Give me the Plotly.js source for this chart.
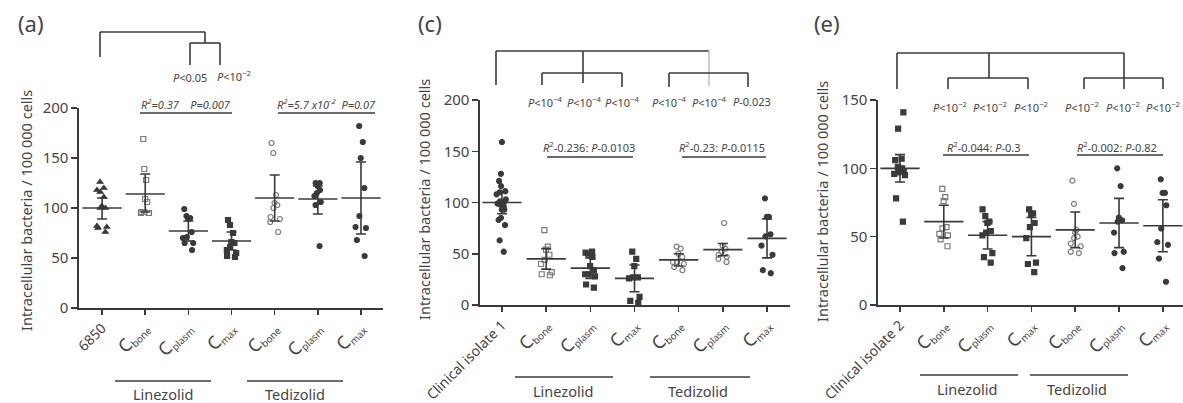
<!DOCTYPE html>
<html><head><meta charset="utf-8">
<script src="https://cdn.plot.ly/plotly-3.0.1.min.js"></script>
<style>html,body{margin:0;padding:0;background:#fff;}#chart{width:1183px;height:403px;}</style>
</head><body><div id="chart"></div>
<script>
// ---------- DATA ----------
const catLabelsA = ['6850','<span style="font-size:18px">C</span><sub>bone</sub>','<span style="font-size:18px">C</span><sub>plasm</sub>','<span style="font-size:18px">C</span><sub>max</sub>','<span style="font-size:18px">C</span><sub>bone</sub>','<span style="font-size:18px">C</span><sub>plasm</sub>','<span style="font-size:18px">C</span><sub>max</sub>'];
const catLabelsC = ['Clinical isolate 1'].concat(catLabelsA.slice(1));
const catLabelsE = ['Clinical isolate 2'].concat(catLabelsA.slice(1));
const groupLabels = ['Linezolid','Tedizolid'];

// Panel (a)
const a_6850      = [126,120,118,116,111,102,100,100,81,80,76,82];
const a_lzd_bone  = [169,139,128,109,106,96,96,95,95,95];
const a_lzd_plasm = [99,92,90,89,76,71,70,65,65,58];
const a_lzd_max   = [88,83,75,66,65,61,58,55,52,51];
const a_tzd_bone  = [165,155,113,105,103,100,91,89,86,76];
const a_tzd_plasm = [125,125,122,118,115,112,106,103,62];
const a_tzd_max   = [182,166,150,120,92,81,80,68,52];
const a_mean      = [100,114,77,67,110,109,110];
const a_errUp     = [10,20,10,9,23,13,36];
const a_errDown   = [11,18,10,9,23,15,36];

// Panel (c)
const c_iso       = [159,128,121,116,111,110,108,103,101,100,99,98,96,93,93,85,83,78,63,52];
const c_lzd_bone  = [73,57,54,49,44,40,32,30,29];
const c_lzd_plasm = [52,51,50,47,38,34,30,30,28,20,17];
const c_lzd_max   = [52,45,38,27,27,26,8,4,2];
const c_tzd_bone  = [57,55,50,47,42,42,40,37,34];
const c_tzd_plasm = [80,58,55,52,49,47,45,42];
const c_tzd_max   = [104,86,86,69,67,58,49,34,31];
const c_mean      = [100,45,36,26,44,54,65];
const c_err       = [11,10,10,13,6,6,19];

// Panel (e)
const e_iso       = [141,129,107,106,101,100,98,98,97,96,95,78,61];
const e_lzd_bone  = [85,79,76,57,56,52,51,48,43];
const e_lzd_plasm = [70,65,61,60,54,53,51,38,35,31];
const e_lzd_max   = [70,67,66,60,57,49,31,30,24];
const e_tzd_bone  = [91,74,55,53,50,49,45,43,39,38];
const e_tzd_plasm = [100,87,64,62,61,53,39,38,27];
const e_tzd_max   = [92,82,82,73,56,46,44,34,17];
const e_mean      = [100,61,51,50,55,60,58];
const e_err       = [10,12,10,14,13,18,19];

const symA = ['triangle-up','square-open','circle','square','circle-open','circle','circle'];
const symC = ['circle','square-open','square','square','circle-open','circle-open','circle'];
const symE = ['square','square-open','square','square','circle-open','circle','circle'];

// ---------- BUILD ----------
const W = 1183, H = 403;
const X = p => p / W, Y = p => 1 - p / H;
const INK = '#3a3a3a';
const FONT = 'Noto Sans, Open Sans, sans-serif';

const traces = [];
function addPanel(groups, syms, mean, up, down, ax) {
  groups.forEach((vals, i) => {
    const open = syms[i].indexOf('open') >= 0;
    traces.push({
      type: 'box', x: vals.map(() => i), y: vals,
      boxpoints: 'all', jitter: 0.5, pointpos: 0, width: 0.65,
      fillcolor: 'rgba(0,0,0,0)', line: {width: 0, color: 'rgba(0,0,0,0)'},
      marker: {symbol: syms[i], size: 5, color: open ? '#7a7a7a' : INK, line: {width: 1.2, color: open ? '#7a7a7a' : INK}},
      xaxis: 'x' + ax, yaxis: 'y' + ax, hoverinfo: 'y'
    });
  });
  traces.push({
    type: 'scatter', mode: 'markers', x: mean.map((_, i) => i), y: mean,
    marker: {symbol: 'line-ew', size: 28, color: INK, line: {width: 1.6, color: INK}},
    error_y: {type: 'data', symmetric: false, array: up, arrayminus: down, width: 5, thickness: 1.6, color: INK},
    xaxis: 'x' + ax, yaxis: 'y' + ax, hoverinfo: 'y'
  });
}
addPanel([a_6850,a_lzd_bone,a_lzd_plasm,a_lzd_max,a_tzd_bone,a_tzd_plasm,a_tzd_max], symA, a_mean, a_errUp, a_errDown, '');
addPanel([c_iso,c_lzd_bone,c_lzd_plasm,c_lzd_max,c_tzd_bone,c_tzd_plasm,c_tzd_max], symC, c_mean, c_err, c_err, '2');
addPanel([e_iso,e_lzd_bone,e_lzd_plasm,e_lzd_max,e_tzd_bone,e_tzd_plasm,e_tzd_max], symE, e_mean, e_err, e_err, '3');

function xax(domain, range, labels, anchor) {
  return {domain: domain, range: range, tickvals: labels.map((_, i) => i), ticktext: labels,
    tickangle: -45, ticks: 'outside', ticklen: 5, tickwidth: 1.5, tickcolor: INK,
    showline: true, linecolor: INK, linewidth: 1.6, showgrid: false, zeroline: false,
    tickfont: {family: FONT, size: 14, color: '#444'}, anchor: anchor, fixedrange: true};
}
function yax(domain, range, dtick, anchor) {
  return {domain: domain, range: range, dtick: dtick, ticks: 'outside', ticklen: 6, tickwidth: 1.5, tickcolor: INK,
    showline: true, linecolor: INK, linewidth: 1.6, showgrid: false, zeroline: false,
    tickfont: {family: FONT, size: 15, color: '#444'}, anchor: anchor, fixedrange: true};
}

const shapes = [];
const annotations = [];
function ln(x0, y0, x1, y1, color) {
  shapes.push({type: 'line', xref: 'paper', yref: 'paper', x0: X(x0), y0: Y(y0), x1: X(x1), y1: Y(y1),
    line: {color: color || INK, width: 1.6}});
}
function txt(x, y, t, size, opts) {
  annotations.push(Object.assign({xref: 'paper', yref: 'paper', x: X(x), y: Y(y), text: t, showarrow: false,
    xanchor: 'center', yanchor: 'middle', font: {family: FONT, size: size, color: '#444'}}, opts || {}));
}
const ytitle = 'Intracellular bacteria / 100 000 cells';

// Panel (a) decorations
txt(31, 23, '(a)', 22);
txt(26, 211, ytitle, 14.5, {textangle: -90});
ln(100, 32, 205, 32); ln(100, 32, 100, 57); ln(205, 32, 205, 43);
ln(190, 43, 220, 43); ln(190, 43, 190, 65); ln(220, 43, 220, 65);
txt(190, 77, '<i>P</i>&lt;0.05', 11);
txt(234, 76, '<i>P</i>&lt;10<sup>−2</sup>', 11);
txt(186, 104, '<i>R<sup>2</sup>=0.37    P=0.007</i>', 11);
ln(140, 113, 232, 113);
txt(326, 104, '<i>R<sup>2</sup>=5.7 x10<sup>−2</sup>  P=0.07</i>', 11);
ln(278, 113, 375, 113);
ln(115, 381, 211, 381); ln(247, 381, 343, 381);
txt(163, 394, groupLabels[0], 14.5); txt(295, 394, groupLabels[1], 14.5);

// Panel (c) decorations
txt(430, 23, '(c)', 22);
txt(424, 200, ytitle, 14.5, {textangle: -90});
ln(496, 51, 709, 51); ln(496, 51, 496, 85); ln(583, 51, 583, 83);
ln(542, 73, 622, 73); ln(542, 73, 542, 85); ln(622, 73, 622, 87);
ln(709, 51, 709, 86, '#c4c4c4');
ln(669, 73, 748, 73); ln(669, 73, 669, 87); ln(748, 73, 748, 87);
const pc = ['<i>P</i>&lt;10<sup>−4</sup>','<i>P</i>&lt;10<sup>−4</sup>','<i>P</i>&lt;10<sup>−4</sup>','<i>P</i>&lt;10<sup>−4</sup>','<i>P</i>&lt;10<sup>−4</sup>','<i>P</i>-0.023'];
[545, 584, 622, 669, 709, 752].forEach((x, i) => txt(x, 102, pc[i], 11));
txt(589, 147, '<i>R</i><sup>2</sup>-0.236: <i>P</i>-0.0103', 11);
ln(547, 157, 633, 157);
txt(722, 147, '<i>R</i><sup>2</sup>-0.23: <i>P</i>-0.0115', 11);
ln(682, 157, 766, 157);
ln(515, 377, 613, 377); ln(650, 377, 750, 377);
txt(563, 391, groupLabels[0], 14.5); txt(698, 391, groupLabels[1], 14.5);

// Panel (e) decorations
txt(827, 23, '(e)', 22);
txt(822, 201, ytitle, 14.5, {textangle: -90});
ln(897, 53, 1124, 53); ln(897, 53, 897, 89); ln(989, 53, 989, 78);
ln(948, 78, 1028, 78); ln(948, 78, 948, 89); ln(1028, 78, 1028, 89);
ln(1124, 53, 1124, 89);
ln(1084, 78, 1163, 78); ln(1084, 78, 1084, 89); ln(1163, 78, 1163, 89);
[950, 990, 1031, 1082, 1123, 1163].forEach(x => txt(x, 107, '<i>P</i>&lt;10<sup>−2</sup>', 11));
txt(984, 147, '<i>R</i><sup>2</sup>-0.044: <i>P</i>-0.3', 11);
ln(943, 155, 1029, 155);
txt(1117, 147, '<i>R</i><sup>2</sup>-0.002: <i>P</i>-0.82', 11);
ln(1077, 155, 1163, 155);
ln(920, 375, 1018, 375); ln(1030, 375, 1128, 375);
txt(967, 389, groupLabels[0], 14.5); txt(1077, 389, groupLabels[1], 14.5);

const layout = {
  width: W, height: H, margin: {l: 0, r: 0, t: 0, b: 0},
  paper_bgcolor: '#fff', plot_bgcolor: 'rgba(0,0,0,0)', showlegend: false, boxmode: 'overlay',
  font: {family: FONT, color: '#444'},
  xaxis:  xax([X(79), X(383)], [-0.535, 6.51], catLabelsA, 'y'),
  yaxis:  yax([Y(308), Y(108)], [0, 200], 50, 'x'),
  xaxis2: xax([X(480), X(790)], [-0.498, 6.52], catLabelsC, 'y2'),
  yaxis2: yax([Y(305), Y(100)], [0, 200], 50, 'x2'),
  xaxis3: xax([X(878), X(1183)], [-0.502, 6.46], catLabelsE, 'y3'),
  yaxis3: yax([Y(305), Y(100)], [0, 150], 50, 'x3'),
  shapes: shapes, annotations: annotations
};
Plotly.newPlot('chart', traces, layout, {displayModeBar: false, staticPlot: true});
</script></body></html>
